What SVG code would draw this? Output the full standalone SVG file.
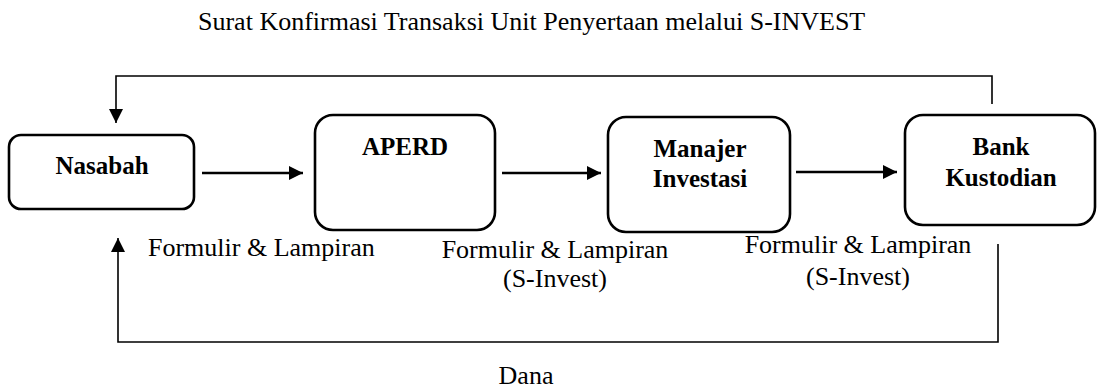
<svg xmlns="http://www.w3.org/2000/svg" width="1098" height="390" viewBox="0 0 1098 390">
<style>
.box{fill:#fff;stroke:#000;stroke-width:2.6}
.bt{font-family:"Liberation Serif","Times New Roman",serif;font-weight:bold;font-size:25px;text-anchor:middle;fill:#000}
.lt{font-family:"Liberation Serif","Times New Roman",serif;font-size:26px;fill:#000}
.c{text-anchor:middle}
.arr{fill:none;stroke:#000;stroke-width:2.5}
.thin{fill:none;stroke:#000;stroke-width:1.6}
</style>
<defs>
<marker id="ah" viewBox="0 0 10 10" refX="10" refY="5" markerUnits="userSpaceOnUse" markerWidth="14" markerHeight="14" orient="auto">
<path d="M0,0 L10,5 L0,10 z" fill="#000"/>
</marker>
</defs>
<rect width="1098" height="390" fill="#fff"/>
<text class="lt" x="198" y="30">Surat Konfirmasi Transaksi Unit Penyertaan melalui S-INVEST</text>
<g id="connectors">
<polyline class="thin" points="992,104 992,76 116,76 116,123" marker-end="url(#ah)"/>
<line class="arr" x1="202" y1="173" x2="303" y2="173" marker-end="url(#ah)"/>
<line class="arr" x1="502" y1="173" x2="601" y2="173" marker-end="url(#ah)"/>
<line class="arr" x1="796" y1="172" x2="897" y2="172" marker-end="url(#ah)"/>
<polyline class="thin" points="998,244 998,342 118,342 118,238" marker-end="url(#ah)"/>
</g>
<g id="nasabah">
<rect class="box" x="9" y="135" width="185" height="74" rx="12"/>
<text class="bt" x="102" y="174">Nasabah</text>
</g>
<g id="aperd">
<rect class="box" x="315" y="115" width="180" height="115" rx="18"/>
<text class="bt" x="405" y="155">APERD</text>
</g>
<g id="manajer">
<rect class="box" x="608" y="117" width="182" height="115" rx="18"/>
<text class="bt" x="700" y="157">Manajer</text>
<text class="bt" x="700" y="187">Investasi</text>
</g>
<g id="bank">
<rect class="box" x="905" y="115" width="190" height="110" rx="18"/>
<text class="bt" x="1001" y="155">Bank</text>
<text class="bt" x="1001" y="186">Kustodian</text>
</g>
<g id="labels">
<text class="lt" x="148" y="256">Formulir &amp; Lampiran</text>
<text class="lt c" x="555" y="258">Formulir &amp; Lampiran</text>
<text class="lt c" x="555" y="287">(S-Invest)</text>
<text class="lt c" x="858" y="253">Formulir &amp; Lampiran</text>
<text class="lt c" x="858" y="285">(S-Invest)</text>
<text class="lt c" x="526" y="384">Dana</text>
</g>
</svg>
